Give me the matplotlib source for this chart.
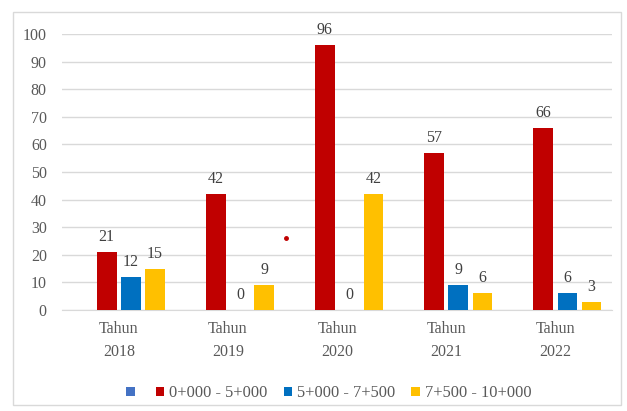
import matplotlib.pyplot as plt
import numpy as np
from matplotlib.patches import Rectangle

years = ["Tahun\n2018", "Tahun\n2019", "Tahun\n2020", "Tahun\n2021", "Tahun\n2022"]
seg_a = [21, 42, 96, 57, 66]   # 0+000 - 5+000
seg_b = [12, 0, 0, 9, 6]       # 5+000 - 7+500
seg_c = [15, 9, 42, 6, 3]      # 7+500 - 10+000
labels = ["0+000 - 5+000", "5+000 - 7+500", "7+500 - 10+000"]
stray_x, stray_y = 1.53, 26

plt.rcParams['font.family'] = ['Liberation Serif', 'DejaVu Serif']

fig = plt.figure(figsize=(6.27, 4.11), dpi=100)
ax = fig.add_axes([0.099, 0.246, 0.877, 0.671])

# outer frame of the chart
fig.patches.append(Rectangle((0.02, 0.015), 0.97, 0.955, transform=fig.transFigure,
                             fill=False, edgecolor='#d9d9d9', linewidth=1))

x = np.arange(len(years))
slot = 0.222
w = 0.18
cols = ['#C00000', '#0070C0', '#FFC000']
series = [seg_a, seg_b, seg_c]

# empty first series keeps its slot in each group
empty = ax.bar(x - 1.5 * slot, [0] * len(years), w, color='#4472C4')
handles = [empty]
for i, (vals, c) in enumerate(zip(series, cols)):
    bars = ax.bar(x + (i - 0.5) * slot, vals, w, color=c, zorder=3)
    handles.append(bars)
    for b, v in zip(bars, vals):
        ax.text(b.get_x() + b.get_width() / 2, v + 2.5, str(v), ha='center',
                va='bottom', fontsize=11.5, color='#404040')

ax.plot([stray_x], [stray_y], 'o', color='#C00000', markersize=2.5, zorder=4)

ax.set_ylim(0, 100)
ax.set_xlim(-0.52, 4.52)
ax.set_yticks(range(0, 101, 10))
ax.set_xticks(x)
ax.set_xticklabels(years, linespacing=1.55)
ax.yaxis.grid(True, color='#d9d9d9', linewidth=1)
ax.set_axisbelow(True)
for s in ['top', 'right', 'left']:
    ax.spines[s].set_visible(False)
ax.spines['bottom'].set_color('#d9d9d9')
ax.tick_params(axis='both', length=0, labelsize=11.5, labelcolor='#595959')
ax.tick_params(axis='x', pad=8)
ax.tick_params(axis='y', pad=11)

ax.legend(handles, [''] + labels, loc='upper center', bbox_to_anchor=(0.485, -0.22),
          ncol=4, frameon=False, fontsize=11.8, handlelength=0.5, handleheight=0.5,
          columnspacing=1.0, handletextpad=0.3, labelcolor='#595959')

fig.savefig('out.png', dpi=100)
